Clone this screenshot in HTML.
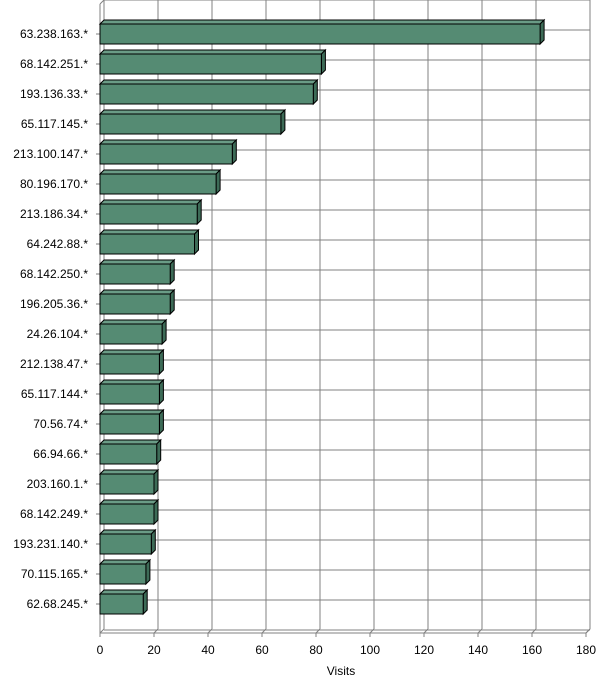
<!DOCTYPE html>
<html><head><meta charset="utf-8"><style>
body{margin:0;background:#fff;width:600px;height:694px;overflow:hidden}
svg text{font-family:"Liberation Sans",Arial,sans-serif;font-size:12px;fill:#000}
</style></head><body>
<svg id="chart" width="600" height="694" xmlns="http://www.w3.org/2000/svg"></svg>
<script>
const categories=["63.238.163.*","68.142.251.*","193.136.33.*","65.117.145.*","213.100.147.*","80.196.170.*","213.186.34.*","64.242.88.*","68.142.250.*","196.205.36.*","24.26.104.*","212.138.47.*","65.117.144.*","70.56.74.*","66.94.66.*","203.160.1.*","68.142.249.*","193.231.140.*","70.115.165.*","62.68.245.*"];
const visits=[163,82,79,67,49,43,36,35,26,26,23,22,22,22,21,20,20,19,17,16];
const xTicks=[0,20,40,60,80,100,120,140,160,180];
const svg=document.getElementById('chart');
const NS='http://www.w3.org/2000/svg';
const X0=100,XMAX=180,XW=486,D=4,YTOP=4,YBOT=633,BAND=30;
const x=v=>X0+v/XMAX*XW;
const yc=i=>34+i*BAND;
function mk(tag,attrs,parent){const e=document.createElementNS(NS,tag);for(const k in attrs)e.setAttribute(k,attrs[k]);(parent||svg).appendChild(e);return e;}
const grid=mk('g',{});


// back wall horizontals
for(let i=0;i<=21;i++){const yy=i*BAND;mk('line',{x1:X0+D,y1:yy,x2:x(XMAX)+D,y2:yy,stroke:'#808080','stroke-width':1},grid);}
// verticals + floor diagonals + ticks
xTicks.forEach(v=>{
 mk('line',{x1:x(v)+D,y1:0,x2:x(v)+D,y2:YBOT-D,stroke:'#808080'},grid);
 mk('line',{x1:x(v),y1:YBOT,x2:x(v)+D,y2:YBOT-D,stroke:'#808080'},grid);
 mk('line',{x1:x(v),y1:YBOT,x2:x(v),y2:YBOT+4,stroke:'#808080'},grid);
 const t=mk('text',{x:x(v),y:YBOT+21,'text-anchor':'middle'});
 
 
 t.textContent=v;
});
// axes
mk('line',{x1:X0,y1:YBOT,x2:x(XMAX),y2:YBOT,stroke:'#808080'},grid);
mk('line',{x1:X0,y1:YTOP,x2:X0,y2:YBOT,stroke:'#808080'},grid);
mk('line',{x1:X0,y1:YTOP,x2:X0+D,y2:0,stroke:'#808080'},grid);
mk('line',{x1:x(XMAX),y1:YBOT,x2:x(XMAX)+D,y2:YBOT-D,stroke:'#808080'},grid);
categories.forEach((c,i)=>{
 mk('line',{x1:X0-4,y1:yc(i),x2:X0,y2:yc(i),stroke:'#808080'},grid);
 const t=mk('text',{x:88,y:yc(i)+4,'text-anchor':'end'});
 
 
 t.textContent=c;
 const g=mk('g',{});
 
 
 const x1=x(visits[i]),t0=yc(i)-10,b=yc(i)+10;
 mk('polygon',{points:`${X0},${t0} ${X0+D},${t0-D} ${x1+D},${t0-D} ${x1},${t0}`,fill:'#6a9c86',stroke:'#000'},g);
 mk('polygon',{points:`${x1},${t0} ${x1+D},${t0-D} ${x1+D},${b-D} ${x1},${b}`,fill:'#3d6b57',stroke:'#000'},g);
 mk('rect',{x:X0,y:t0,width:x1-X0,height:b-t0,fill:'#558b73',stroke:'#000'},g);
});
const tt=mk('text',{x:341,y:675,'text-anchor':'middle'});


tt.textContent='Visits';
</script>
</body></html>
